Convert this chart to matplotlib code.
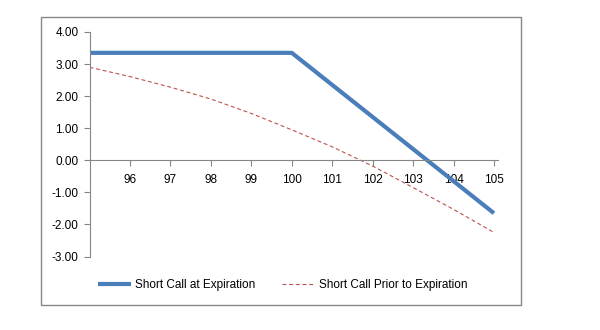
import matplotlib
matplotlib.use("Agg")
import matplotlib.pyplot as plt
from matplotlib.patches import Rectangle

# Underlying price grid and payoff values
expiry_prices = [95, 100, 105]
expiry_pnl = [3.35, 3.35, -1.65]

prior_prices = [95, 96, 97, 98, 99, 100, 101, 102, 103, 104, 105]
prior_pnl = [2.90, 2.61, 2.28, 1.91, 1.46, 0.95, 0.42, -0.18, -0.85, -1.53, -2.25]

x_ticks = [96, 97, 98, 99, 100, 101, 102, 103, 104, 105]
y_ticks = [-3, -2, -1, 0, 1, 2, 3, 4]

series_names = ["Short Call at Expiration", "Short Call Prior to Expiration"]

plt.rcParams["font.family"] = ["Liberation Sans", "DejaVu Sans"]

fig = plt.figure(figsize=(6, 3.3), dpi=100)
W, H = 600, 330

# chart border
fig.patches.append(Rectangle((41 / W, 1 - 305 / H), 480 / W, 288 / H,
                             transform=fig.transFigure, fill=False,
                             edgecolor="#868686", linewidth=1.0))

ax = fig.add_axes([89.6 / W, 1 - 256.5 / H, (498 - 89.6) / W, (256.5 - 32) / H])

blue = "#4A7EBB"
red = "#C0504D"

l1, = ax.plot(expiry_prices, expiry_pnl, color=blue, linewidth=3.0,
              solid_capstyle="butt", label=series_names[0])
l2, = ax.plot(prior_prices, prior_pnl, color=red, linewidth=0.8,
              dashes=(3.5, 2.5), label=series_names[1])

ax.set_xlim(95, 105.1)
ax.set_ylim(-3, 4)

ax.spines["top"].set_visible(False)
ax.spines["right"].set_visible(False)
ax.spines["left"].set_color("#868686")
ax.spines["bottom"].set_color("#868686")
ax.spines["bottom"].set_position(("data", 0))

ax.set_yticks(y_ticks)
ax.set_yticklabels([f"{v:.2f}" for v in y_ticks])
ax.set_xticks(x_ticks)
ax.set_xticklabels([str(v) for v in x_ticks])

ax.tick_params(axis="both", colors="#868686", labelcolor="black",
               labelsize=8.5, length=4, width=0.8)
ax.tick_params(axis="y", pad=4)
ax.tick_params(axis="x", pad=6)

fig.legend(handles=[l1, l2], loc="center", bbox_to_anchor=(282.5 / W, 1 - 285 / H),
           ncol=2, frameon=False, fontsize=8.5, handlelength=2.8,
           handletextpad=0.3, columnspacing=2.3)

fig.savefig("out.png", dpi=100)
